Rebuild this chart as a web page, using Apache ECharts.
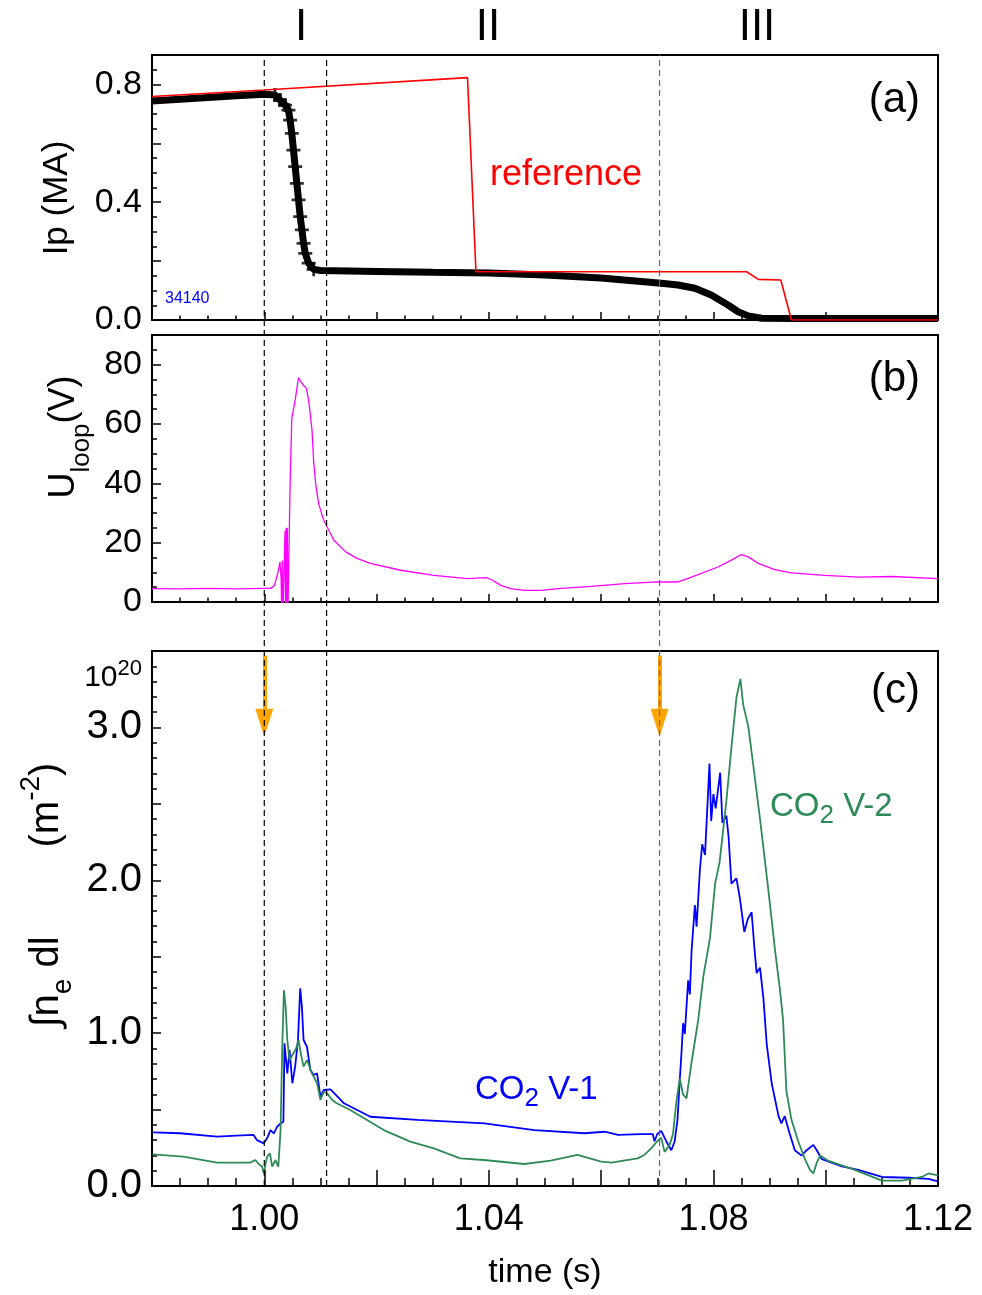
<!DOCTYPE html>
<html><head><meta charset="utf-8">
<script src="https://cdn.jsdelivr.net/npm/echarts@6/dist/echarts.min.js"></script>
<style>html,body{margin:0;padding:0;background:#fff}#c{width:982px;height:1295px}</style>
</head><body><div id="c"></div>
<script>
const FONT = "'Liberation Sans', Helvetica, Arial, sans-serif";

// ---------- tick labels ----------
const timeTickLabels = ['1.00', '1.04', '1.08', '1.12'];
const ipTickLabels = ['0.0', '0.4', '0.8'];
const uloopTickLabels = ['0', '20', '40', '60', '80'];
const neTickLabels = ['0.0', '1.0', '2.0', '3.0'];

// ---------- panel (a): plasma current Ip (MA) ----------
const ipTime = [0.980, 0.985, 0.990, 0.995, 1.000, 1.0019, 1.0028, 1.0037, 1.0043, 1.0046, 1.0049, 1.0052,
  1.0055, 1.0058, 1.0061, 1.0064, 1.0067, 1.0070, 1.0073, 1.0079, 1.0088, 1.0100, 1.020, 1.030, 1.040,
  1.050, 1.060, 1.0707, 1.0737, 1.0767, 1.0796, 1.0826, 1.0844, 1.0862, 1.0886, 1.0945, 1.105, 1.120];
const ipValue = [0.744, 0.750, 0.756, 0.762, 0.767, 0.764, 0.747, 0.730, 0.713, 0.679, 0.634, 0.577,
  0.521, 0.464, 0.408, 0.351, 0.306, 0.260, 0.226, 0.193, 0.172, 0.168, 0.165, 0.162, 0.160,
  0.153, 0.143, 0.125, 0.119, 0.108, 0.085, 0.051, 0.028, 0.014, 0.006, 0.005, 0.005, 0.005];

const refTime = [0.980, 1.000, 1.0362, 1.0377, 1.0859, 1.0880, 1.0920, 1.0939, 1.120];
const refValue = [0.759, 0.781, 0.823, 0.164, 0.164, 0.138, 0.136, 0.000, 0.000];

// ---------- panel (b): loop voltage (V) ----------
const uTime = [0.980, 0.985, 0.990, 0.995, 1.000, 1.0011, 1.0018, 1.0025, 1.0028, 1.0030, 1.0031, 1.0032,
  1.0033, 1.0036, 1.0037, 1.0038, 1.0039, 1.0040, 1.0041, 1.0042, 1.0044, 1.0046, 1.0049, 1.0055, 1.0061,
  1.0066, 1.0070, 1.0075, 1.0079, 1.0085, 1.0088, 1.0092, 1.0097, 1.0105, 1.0112, 1.0124, 1.0145, 1.0166,
  1.0189, 1.0243, 1.0302, 1.0362, 1.0395, 1.0405, 1.0421, 1.0439, 1.0463, 1.0493, 1.0523, 1.0582, 1.0642,
  1.0701, 1.0737, 1.0761, 1.0808, 1.0832, 1.0850, 1.0862, 1.0880, 1.0909, 1.0939, 1.0999, 1.1058, 1.1118, 1.120];
const uValue = [4.5, 4.4, 4.6, 4.4, 4.6, 4.6, 5.5, 10.5, 13.5, 8, -5, 14,
  -5, -5, 24, -5, 25, -5, 25, -5, -5, 40, 62, 68, 75.6,
  74, 73, 72, 68, 58, 47, 39, 33, 28, 25.3, 20.8, 16.9, 14.6,
  13, 10.7, 9, 7.9, 8.2, 7.5, 5.6, 4.5, 3.9, 3.9, 4.5, 5.3, 6.2,
  6.75, 6.75, 8.4, 11.8, 14.1, 16, 15.2, 13, 10.9, 9.8, 9, 8.4, 8.6, 7.9];

// ---------- panel (c): line integrated density (1e20 m^-2) ----------
const v1Time = [0.9802, 0.9850, 0.9916, 0.9950, 0.9981, 0.9987, 0.9999, 1.0005, 1.0011, 1.0017, 1.0023, 1.0029,
  1.0034, 1.0036, 1.0041, 1.0045, 1.0050, 1.0055, 1.0060, 1.0064, 1.0067, 1.0070, 1.0076, 1.0082, 1.0088,
  1.0094, 1.0100, 1.0106, 1.0118, 1.0142, 1.0189, 1.0273, 1.0332, 1.0392, 1.0481, 1.0570, 1.0606, 1.0630,
  1.0671, 1.0692, 1.0695, 1.0700, 1.0707, 1.0716, 1.0725, 1.0731, 1.0736, 1.0740, 1.0743, 1.0746, 1.0749,
  1.0755, 1.0758, 1.0761, 1.0767, 1.0770, 1.0776, 1.0780, 1.0785, 1.0793, 1.0796, 1.0800, 1.0804, 1.0812,
  1.0816, 1.0823, 1.0827, 1.0832, 1.0841, 1.0847, 1.0855, 1.0861, 1.0868, 1.0873, 1.0877, 1.0883, 1.0889,
  1.0895, 1.0904, 1.0916, 1.0921, 1.0927, 1.0936, 1.0945, 1.0957, 1.0966, 1.0978, 1.0984, 1.0993, 1.1029,
  1.1058, 1.1100, 1.1148, 1.1183, 1.1200];
const v1Value = [0.351, 0.345, 0.323, 0.330, 0.334, 0.300, 0.279, 0.312, 0.366, 0.344, 0.388, 0.409,
  0.420, 0.933, 0.737, 0.889, 0.672, 0.781, 0.955, 1.293, 1.172, 0.955, 0.911, 0.759, 0.726,
  0.737, 0.584, 0.628, 0.632, 0.541, 0.453, 0.432, 0.421, 0.410, 0.366, 0.345, 0.355, 0.334,
  0.340, 0.340, 0.293, 0.340, 0.360, 0.293, 0.234, 0.293, 0.433, 0.690, 0.866, 1.065, 0.995,
  1.346, 1.253, 1.534, 1.838, 1.697, 2.072, 2.236, 2.166, 2.763, 2.388, 2.564, 2.470, 2.704,
  2.376, 2.423, 2.283, 1.978, 2.013, 1.885, 1.662, 1.744, 1.791, 1.557, 1.393, 1.428, 1.229,
  0.925, 0.667, 0.457, 0.410, 0.457, 0.340, 0.234, 0.199, 0.234, 0.269, 0.234, 0.176, 0.129,
  0.106, 0.059, 0.054, 0.047, 0.030];

const v2Time = [0.9801, 0.9856, 0.9916, 0.9975, 0.9984, 0.9990, 0.9996, 0.9999, 1.0005, 1.0010, 1.0014, 1.0020,
  1.0025, 1.0029, 1.0032, 1.0035, 1.0038, 1.0041, 1.0045, 1.0052, 1.0058, 1.0061, 1.0065, 1.0070, 1.0076,
  1.0085, 1.0094, 1.0100, 1.0106, 1.0112, 1.0121, 1.0129, 1.0153, 1.0213, 1.0260, 1.0302, 1.0349, 1.0391,
  1.0463, 1.0510, 1.0558, 1.0600, 1.0618, 1.0665, 1.0677, 1.0689, 1.0700, 1.0707, 1.0713, 1.0722, 1.0728,
  1.0734, 1.0740, 1.0746, 1.0752, 1.0761, 1.0773, 1.0782, 1.0794, 1.0803, 1.0811, 1.0823, 1.0832, 1.0841,
  1.0848, 1.0853, 1.0862, 1.0871, 1.0883, 1.0898, 1.0910, 1.0918, 1.0924, 1.0930, 1.0939, 1.0951, 1.0963,
  1.0972, 1.0978, 1.0984, 1.0990, 1.1005, 1.1052, 1.1100, 1.1136, 1.1171, 1.1183, 1.1200];
const v2Value = [0.207, 0.192, 0.153, 0.153, 0.170, 0.144, 0.127, 0.083, 0.192, 0.214, 0.127, 0.170,
  0.127, 0.366, 0.911, 1.281, 1.172, 0.955, 0.824, 0.868, 0.911, 0.955, 0.868, 0.781, 0.824,
  0.737, 0.672, 0.563, 0.617, 0.606, 0.563, 0.541, 0.497, 0.366, 0.290, 0.246, 0.181, 0.170,
  0.144, 0.166, 0.203, 0.159, 0.153, 0.181, 0.203, 0.246, 0.293, 0.316, 0.223, 0.269, 0.340,
  0.550, 0.703, 0.597, 0.574, 0.808, 1.089, 1.370, 1.627, 1.978, 2.119, 2.517, 2.868, 3.196,
  3.318, 3.149, 3.008, 2.751, 2.400, 1.931, 1.534, 1.300, 1.089, 0.620, 0.433, 0.293, 0.176,
  0.106, 0.082, 0.152, 0.199, 0.164, 0.106, 0.035, 0.035, 0.059, 0.082, 0.070];

// ---------- phase markers ----------
const phaseTimes = [1.0000, 1.0111, 1.0704];
const phaseColors = ['#000000', '#000000', '#666666'];
const arrowTimes = [1.0000, 1.0704];
const arrowTop = 3.47, arrowEnd = 3.03;

// ---------- build ----------
const zip = (a, b) => a.map((t, i) => [t, b[i]]);
const plusPath = 'path://M4,0H6V4H10V6H6V10H4V6H0V4H4Z';

const L = 152, W = 786;
const grids = [
  {left: L, top: 55, width: W, height: 265},
  {left: L, top: 335, width: W, height: 267},
  {left: L, top: 651, width: W, height: 535},
  {left: L, top: 55, width: W, height: 1131}
];
grids.forEach((g, i) => { if (i < 3) { g.show = true; g.borderColor = '#000'; g.borderWidth = 2; g.backgroundColor = 'transparent'; } });

function xAx(idx, big) {
  return {
    type: 'value', gridIndex: idx, min: 0.98, max: 1.12, interval: 0.02,
    show: idx < 3,
    axisLine: {show: false},
    splitLine: {show: false},
    axisTick: {show: true, inside: true, length: big ? 16 : 8, lineStyle: {color: '#000', width: 1.5}},
    minorTick: {show: true, splitNumber: 4, length: big ? 8 : 4.5, lineStyle: {color: '#000', width: 1.5}},
    axisLabel: {
      show: idx === 2, margin: 16, color: '#000', fontFamily: FONT, fontSize: 36,
      formatter: v => timeTickLabels.includes(v.toFixed(2)) ? v.toFixed(2) : ''
    },
    name: idx === 2 ? 'time (s)' : '', nameLocation: 'middle', nameGap: 70,
    nameTextStyle: {fontFamily: FONT, fontSize: 34, color: '#000'}
  };
}
function yAx(idx, min, max, interval, minorSplit, labels, digits, fs) {
  return {
    type: 'value', gridIndex: idx, min: min, max: max, interval: interval,
    axisLine: {show: false}, splitLine: {show: false},
    axisTick: {show: true, inside: true, length: 9, lineStyle: {color: '#000', width: 1.5}},
    minorTick: {show: true, splitNumber: minorSplit, length: 5, lineStyle: {color: '#000', width: 1.5}},
    axisLabel: {
      margin: 10, color: '#000', fontFamily: FONT, fontSize: fs,
      formatter: v => labels.includes(v.toFixed(digits)) ? v.toFixed(digits) : ''
    }
  };
}

const series = [];
// panel a
series.push({type: 'line', xAxisIndex: 0, yAxisIndex: 0, data: zip(ipTime, ipValue), showSymbol: false,
  lineStyle: {color: '#000', width: 7}, z: 3});
series.push({type: 'scatter', xAxisIndex: 0, yAxisIndex: 0,
  data: zip(ipTime, ipValue).filter(p => p[0] > 1.0 && p[0] < 1.0095),
  symbol: plusPath, symbolSize: 14, itemStyle: {color: '#000'}, z: 3});
series.push({type: 'line', xAxisIndex: 0, yAxisIndex: 0, data: zip(refTime, refValue), showSymbol: false,
  lineStyle: {color: '#ff0000', width: 1.6}, z: 4});
// panel b
series.push({type: 'line', xAxisIndex: 1, yAxisIndex: 1, data: zip(uTime, uValue), showSymbol: false,
  lineStyle: {color: '#ff00ff', width: 1.3}, z: 3});
// panel c
series.push({type: 'line', xAxisIndex: 2, yAxisIndex: 2, data: zip(v1Time, v1Value), showSymbol: false,
  lineStyle: {color: '#0000ff', width: 1.8}, z: 3,
  markLine: {
    silent: true, animation: false, label: {show: false}, symbol: ['none', 'triangle'],
    lineStyle: {color: '#ffa500', width: 4, type: 'solid'},
    emphasis: {disabled: true},
    data: arrowTimes.map(t => [
      {coord: [t, arrowTop], symbol: 'none'},
      {coord: [t, arrowEnd], symbol: 'triangle', symbolSize: [18, 28], itemStyle: {color: '#ffa500'}}
    ])
  }});
series.push({type: 'line', xAxisIndex: 2, yAxisIndex: 2, data: zip(v2Time, v2Value), showSymbol: false,
  lineStyle: {color: '#2e8b57', width: 1.8}, z: 4});
// dashed phase lines across all panels (overlay grid)
phaseTimes.forEach((t, i) => {
  series.push({type: 'line', xAxisIndex: 3, yAxisIndex: 3, data: [[t, 0], [t, 1]], showSymbol: false,
    lineStyle: {color: phaseColors[i], width: 1.2, type: [6, 4]}, z: 10, silent: true});
});

const T = (o) => Object.assign({type: 'text', silent: true}, o);
const graphic = [
  T({x: 301, y: 28, style: {text: 'I', font: '44px ' + FONT, fill: '#000', align: 'center', verticalAlign: 'middle'}}),
  T({x: 488, y: 28, style: {text: 'II', font: '44px ' + FONT, fill: '#000', align: 'center', verticalAlign: 'middle'}}),
  T({x: 757, y: 28, style: {text: 'III', font: '44px ' + FONT, fill: '#000', align: 'center', verticalAlign: 'middle'}}),
  T({x: 920, y: 100, style: {text: '(a)', font: '42px ' + FONT, fill: '#000', align: 'right', verticalAlign: 'middle'}}),
  T({x: 920, y: 379, style: {text: '(b)', font: '42px ' + FONT, fill: '#000', align: 'right', verticalAlign: 'middle'}}),
  T({x: 920, y: 691, style: {text: '(c)', font: '42px ' + FONT, fill: '#000', align: 'right', verticalAlign: 'middle'}}),
  T({x: 490, y: 175, style: {text: 'reference', font: '36px ' + FONT, fill: '#ff0000', align: 'left', verticalAlign: 'middle'}}),
  T({x: 165, y: 299, style: {text: '34140', font: '16px ' + FONT, fill: '#0000ff', align: 'left', verticalAlign: 'middle'}}),
  T({x: 475, y: 1090, style: {
    text: '{m|CO}{s|2}{m| V-1}', fill: '#0000ff', align: 'left', verticalAlign: 'middle',
    rich: {m: {fontFamily: FONT, fontSize: 33, lineHeight: 44, verticalAlign: 'middle', fill: '#0000ff'},
           s: {fontFamily: FONT, fontSize: 26, lineHeight: 26, verticalAlign: 'bottom', fill: '#0000ff'}}}}),
  T({x: 770, y: 807, style: {
    text: '{m|CO}{s|2}{m| V-2}', fill: '#2e8b57', align: 'left', verticalAlign: 'middle',
    rich: {m: {fontFamily: FONT, fontSize: 33, lineHeight: 44, verticalAlign: 'middle', fill: '#2e8b57'},
           s: {fontFamily: FONT, fontSize: 26, lineHeight: 26, verticalAlign: 'bottom', fill: '#2e8b57'}}}}),
  T({x: 142, y: 678, style: {
    text: '{m|10}{p|20}', fill: '#000', align: 'right', verticalAlign: 'middle',
    rich: {m: {fontFamily: FONT, fontSize: 30, lineHeight: 40, verticalAlign: 'middle', fill: '#000'},
           p: {fontFamily: FONT, fontSize: 22, lineHeight: 22, verticalAlign: 'top', fill: '#000'}}}}),
  // y axis titles
  T({x: 57, y: 198, rotation: Math.PI / 2, style: {text: 'Ip (MA)', font: '35px ' + FONT, fill: '#000', align: 'center', verticalAlign: 'middle'}}),
  T({x: 64, y: 437, rotation: Math.PI / 2, style: {
    text: '{m|U}{s|loop}{m|(V)}', fill: '#000', align: 'center', verticalAlign: 'middle',
    rich: {m: {fontFamily: FONT, fontSize: 36, lineHeight: 62, verticalAlign: 'middle', fill: '#000'},
           s: {fontFamily: FONT, fontSize: 26, lineHeight: 26, verticalAlign: 'bottom', fill: '#000'}}}}),
  T({x: 47, y: 895, rotation: Math.PI / 2, style: {
    text: '{m|\u222Bn}{s|e}{m| dl        (m}{p|-2}{m|)}', fill: '#000', align: 'center', verticalAlign: 'middle',
    rich: {m: {fontFamily: FONT, fontSize: 40, lineHeight: 60, verticalAlign: 'middle', fill: '#000'},
           s: {fontFamily: FONT, fontSize: 28, lineHeight: 28, verticalAlign: 'bottom', fill: '#000'},
           p: {fontFamily: FONT, fontSize: 28, lineHeight: 28, verticalAlign: 'top', fill: '#000'}}}})
];

const chart = echarts.init(document.getElementById('c'), null, {renderer: 'canvas'});
chart.setOption({
  animation: false,
  backgroundColor: '#fff',
  grid: grids,
  xAxis: [xAx(0, false), xAx(1, false), xAx(2, true), xAx(3, false)],
  yAxis: [
    yAx(0, 0, 0.9, 0.2, 4, ipTickLabels, 1, 34),
    yAx(1, 0, 90, 20, 4, uloopTickLabels, 0, 34),
    yAx(2, 0, 3.5, 0.5, 5, neTickLabels, 1, 40),
    {type: 'value', gridIndex: 3, min: 0, max: 1, show: false}
  ],
  series: series,
  graphic: graphic
});
</script>
</body></html>
